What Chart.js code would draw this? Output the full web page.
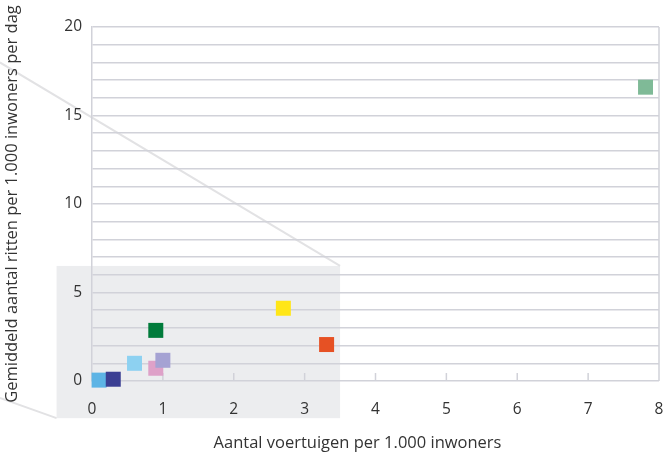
<!DOCTYPE html>
<html>
<head>
<meta charset="utf-8">
<script src="https://cdn.jsdelivr.net/npm/chart.js@4/dist/chart.umd.min.js"></script>
<style>
  html, body { margin: 0; padding: 0; background: #fff; }
  #wrap { width: 670px; height: 455px; position: relative; }
</style>
</head>
<body>
<div id="wrap"><canvas id="chart"></canvas></div>
<script>
// values
const vehicles = [0.1, 0.3, 0.6, 0.9, 1.0, 0.9, 2.7, 3.31, 7.81]
const trips    = [0.05, 0.1, 1.0, 0.72, 1.17, 2.86, 4.11, 2.06, 16.6]
const pointColors = ['#5DB4E5', '#3B3F93', '#8DD1F1', '#DEA1C8', '#A5A2D3',
                     '#007B3B', '#FFE617', '#E65124', '#7FBA97']
const xTicks = [0, 1, 2, 3, 4, 5, 6, 7, 8]
const yLabelTicks = [0, 5, 10, 15, 20]
const xTitle = 'Aantal voertuigen per 1.000 inwoners'
const yTitle = 'Gemiddeld aantal ritten per 1.000 inwoners per dag'

// grey "zoom" box behind the low values, in data units
const zoomBox = { xMin: -0.5, xMax: 3.5, yMin: -2.1, yMax: 6.5 }
const zoomLines = [
    { from: [3.5, 6.5], to: [-1.3, 18.0] },
    { from: [-0.5, -2.1], to: [-1.3, -0.96] }
]

const GRID = '#D1D2D9'
const TEXT = '#333333'
const FONT = 'Open Sans'

const points = vehicles.map((v, i) => ({ x: v, y: trips[i] }))

const decor = {
    id: 'decor',
    beforeDraw(chart) {
        const { ctx, scales: { x, y } } = chart
        ctx.save()
        ctx.fillStyle = '#ECEDEF'
        const l = x.getPixelForValue(zoomBox.xMin), r = x.getPixelForValue(zoomBox.xMax)
        const t = y.getPixelForValue(zoomBox.yMax), b = y.getPixelForValue(zoomBox.yMin)
        ctx.fillRect(l, t, r - l, b - t)
        ctx.strokeStyle = '#E2E2E4'
        ctx.lineWidth = 2
        zoomLines.forEach(line => {
            ctx.beginPath()
            ctx.moveTo(x.getPixelForValue(line.from[0]), y.getPixelForValue(line.from[1]))
            ctx.lineTo(x.getPixelForValue(line.to[0]), y.getPixelForValue(line.to[1]))
            ctx.stroke()
        })
        ctx.restore()
    },
    beforeDatasetsDraw(chart) {
        const { ctx, chartArea, scales: { x, y } } = chart
        ctx.save()
        ctx.strokeStyle = GRID
        ctx.lineWidth = 1.5
        // right border
        ctx.beginPath()
        ctx.moveTo(chartArea.right, chartArea.top)
        ctx.lineTo(chartArea.right, chartArea.bottom)
        ctx.stroke()
        // small tick marks standing on the x axis
        xTicks.slice(1, -1).forEach(v => {
            const px = x.getPixelForValue(v)
            ctx.beginPath()
            ctx.moveTo(px, y.getPixelForValue(0))
            ctx.lineTo(px, y.getPixelForValue(0) - 8)
            ctx.stroke()
        })
        ctx.restore()
    },
    afterDraw(chart) {
        // x title sits a little left of the plot centre in the original
        const { ctx, chartArea } = chart
        ctx.save()
        ctx.fillStyle = TEXT
        ctx.font = '16.5px "' + FONT + '"'
        ctx.textAlign = 'center'
        ctx.textBaseline = 'middle'
        ctx.fillText(xTitle, (chartArea.left + chartArea.right) / 2 - 18, 443)
        ctx.restore()
    }
}

new Chart(document.getElementById('chart'), {
    type: 'scatter',
    data: {
        datasets: [{
            data: points,
            clip: false,
            pointStyle: 'rect',
            pointRadius: 10.6,
            pointHoverRadius: 10.6,
            pointBorderWidth: 0,
            pointBackgroundColor: pointColors,
            pointBorderColor: pointColors
        }]
    },
    options: {
        responsive: true,
        maintainAspectRatio: false,
        animation: false,
        layout: { padding: { top: 27, right: 0, left: 0, bottom: 0 } },
        plugins: { legend: { display: false }, tooltip: { enabled: false } },
        scales: {
            x: {
                type: 'linear',
                min: 0, max: 8,
                afterFit: s => { s.height = 74; s.paddingRight = 11 },
                afterBuildTicks: s => { s.ticks = xTicks.map(v => ({ value: v })) },
                grid: { display: false },
                border: { display: false },
                ticks: { color: TEXT, font: { family: FONT, size: 15.5 }, padding: 11, autoSkip: false, maxRotation: 0 }
            },
            y: {
                type: 'linear',
                min: 0, max: 20,
                afterFit: s => { s.width = 92 },
                ticks: {
                    stepSize: 1,
                    autoSkip: false,
                    color: TEXT,
                    font: { family: FONT, size: 15.5 },
                    padding: 10,
                    callback: v => yLabelTicks.includes(v) ? v : ''
                },
                grid: { color: GRID, lineWidth: 1.5, drawTicks: false },
                border: { color: GRID, width: 1.5 },
                title: {
                    display: true,
                    text: yTitle,
                    color: TEXT,
                    font: { family: FONT, size: 16.5 },
                    padding: { top: 2, bottom: 0 }
                }
            }
        }
    },
    plugins: [decor]
})
</script>
</body>
</html>
